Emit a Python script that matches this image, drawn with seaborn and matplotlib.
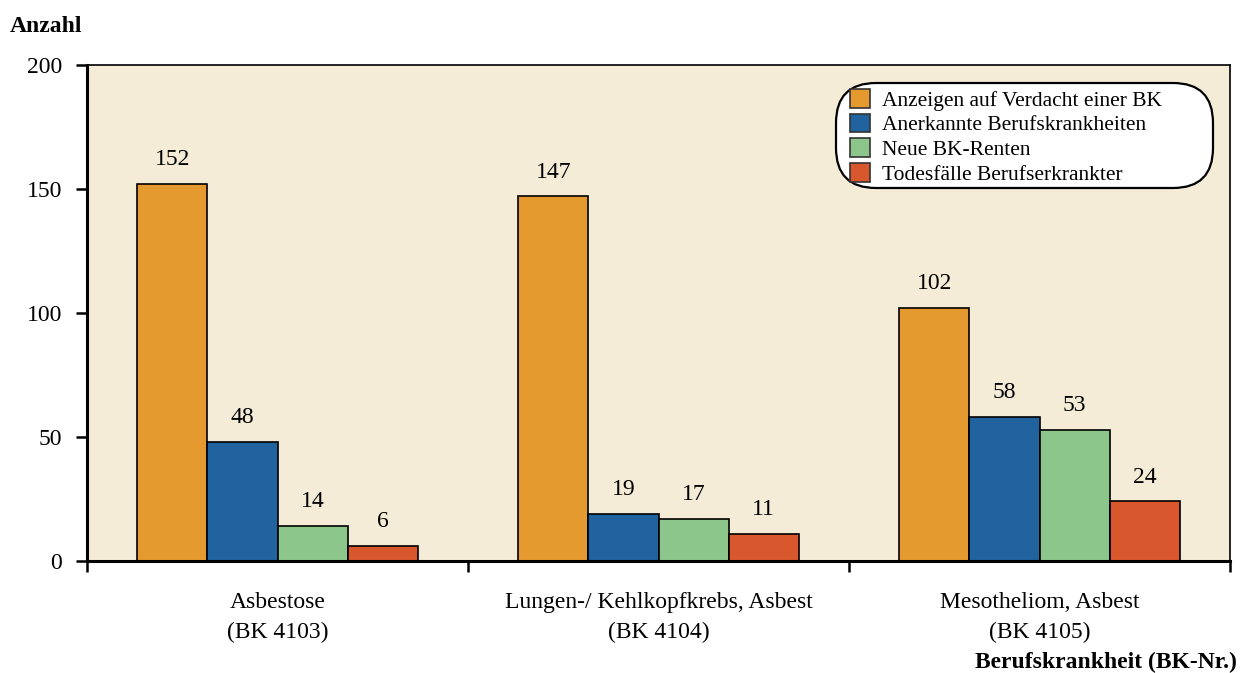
import matplotlib
matplotlib.use("Agg")
import matplotlib.pyplot as plt
import seaborn as sns
import pandas as pd
import numpy as np
from matplotlib.ticker import MultipleLocator, FixedLocator
from matplotlib.patches import FancyBboxPatch

categories = ["Asbestose\n(BK 4103)", "Lungen-/ Kehlkopfkrebs, Asbest\n(BK 4104)", "Mesotheliom, Asbest\n(BK 4105)"]
series = ["Anzeigen auf Verdacht einer BK", "Anerkannte Berufskrankheiten", "Neue BK-Renten", "Todesfälle Berufserkrankter"]
anzeigen = [152, 147, 102]
anerkannt = [48, 19, 58]
renten = [14, 17, 53]
todesfaelle = [6, 11, 24]
colors = ["#E59A2F", "#21639F", "#8DC68A", "#D9572C"]

rows = []
for s, vals in zip(series, [anzeigen, anerkannt, renten, todesfaelle]):
    for c, v in zip(categories, vals):
        rows.append({"cat": c, "series": s, "val": v})
df = pd.DataFrame(rows)

sns.set_theme(style="white")
plt.rcParams["font.family"] = ["Liberation Serif", "DejaVu Serif"]
plt.rcParams["text.color"] = "black"
plt.rcParams["xtick.color"] = "black"
plt.rcParams["ytick.color"] = "black"
plt.rcParams["axes.labelcolor"] = "black"

fig = plt.figure(figsize=(12.45, 6.73), dpi=100)
ax = fig.add_axes([87/1245, 1-561/673, (1230-87)/1245, (561-65)/673])
ax.set_facecolor("#F5ECD7")

sns.barplot(data=df, x="cat", y="val", hue="series", order=categories, hue_order=series,
            palette=colors, width=0.737, edgecolor="black", linewidth=1.2, ax=ax,
            saturation=1, legend=True)

for cont in ax.containers:
    ax.bar_label(cont, padding=10, fontsize=17, color="black")

ax.set_xlim(-0.5, 2.5)
ax.set_ylim(0, 200)
ax.yaxis.set_major_locator(MultipleLocator(50))
ax.yaxis.set_minor_locator(MultipleLocator(12.5))
ax.xaxis.set_major_locator(FixedLocator([-0.5, 0.5, 1.5, 2.5]))
ax.xaxis.set_minor_locator(FixedLocator([0, 1, 2]))
ax.set_xticklabels(["", "", "", ""])
ax.set_xticklabels(categories, minor=True, fontsize=17, linespacing=1.55)
ax.tick_params(axis="x", which="minor", length=0, pad=22)
ax.tick_params(axis="x", which="major", length=8, width=1.8, direction="out")
ax.tick_params(axis="y", which="major", length=8, width=1.8, direction="out", labelsize=17, pad=10)
ax.tick_params(axis="y", which="minor", length=6, width=1.5, direction="out")
ax.tick_params(left=True, bottom=True)
ax.set_xlabel("")
ax.set_ylabel("")

for side in ["left", "bottom"]:
    ax.spines[side].set_linewidth(2.2)
    ax.spines[side].set_color("black")
for side in ["top", "right"]:
    ax.spines[side].set_linewidth(1.2)
    ax.spines[side].set_color("black")

# legend box
bx0, bx1 = (836-87)/1143, (1213-87)/1143
by0, by1 = (561-188)/496, (561-83)/496
box = FancyBboxPatch((bx0, by0), bx1-bx0, by1-by0, transform=ax.transAxes,
                     boxstyle="round,pad=0,rounding_size=0.035", mutation_aspect=1143/496,
                     facecolor="white", edgecolor="black", linewidth=1.6, zorder=5)
ax.add_patch(box)

leg = ax.legend(loc="upper left", bbox_to_anchor=((850-87)/1143, (561-89)/496), fontsize=15.5,
                frameon=False, handlelength=0.95, handleheight=0.95, labelspacing=0.14,
                borderpad=0, borderaxespad=0, handletextpad=0.55)
leg.set_zorder(6)
for h in leg.legend_handles:
    h.set_edgecolor("#333333")

fig.text(10/1245, 1-27/673, "Anzahl", fontsize=17, fontweight="bold", va="center", ha="left")
fig.text(1237/1245, 1-662/673, "Berufskrankheit (BK-Nr.)", fontsize=17, fontweight="bold", va="center", ha="right")

fig.savefig("out.png", dpi=100)
